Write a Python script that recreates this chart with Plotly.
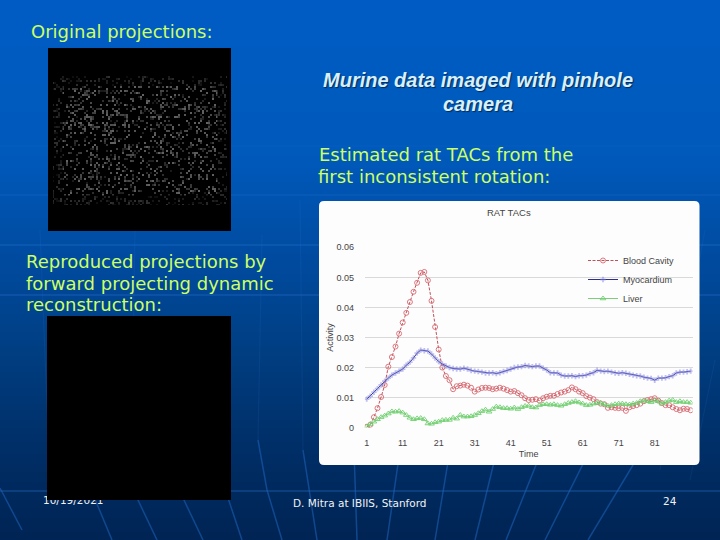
import base64, struct, zlib
import plotly.graph_objects as go

W, H = 720, 540

# ---- chart data ----
time = list(range(1, 92))
blood = [.0003,.001,.0035,.0065,.0102,.0142,.0203,.0235,.027,.0313,.035,.0382,.0418,.0452,.0482,.0515,.0518,.049,.0422,.0335,
         .026,.02,.0172,.0158,.0128,.0138,.014,.0143,.014,.0133,.012,.0127,.0132,.0133,.0132,.0128,.013,.0133,.013,.0125,
         .012,.0122,.0115,.0108,.0098,.0092,.0093,.0095,.009,.0098,.0103,.0106,.0106,.0112,.0117,.012,.0125,.0134,.0128,.012,
         .0115,.0105,.01,.0095,.0085,.008,.0078,.0066,.0068,.0066,.0065,.0066,.0056,.0068,.0072,.0075,.008,.0088,.0092,.0095,
         .0098,.009,.0082,.0075,.0075,.0068,.0062,.0058,.0063,.0062,.0058]
myocardium = [.0095,.0105,.0118,.013,.0142,.0155,.0165,.0175,.0182,.0188,.0195,.0208,.0218,.0232,.0248,.0258,.0256,.0255,.0245,.0232,
              .022,.0212,.0205,.02,.0197,.0195,.0195,.0198,.0195,.019,.0188,.0187,.0185,.0182,.0182,.0183,.018,.0183,.0187,.019,
              .0195,.02,.0202,.0203,.0207,.0205,.0203,.0205,.0205,.0198,.0192,.0183,.0182,.0182,.0175,.0172,.0172,.0173,.017,.0173,
              .0173,.0175,.018,.0183,.0191,.0188,.0187,.0188,.0185,.0182,.0181,.0183,.0181,.0178,.0175,.0173,.0172,.0168,.0165,.0164,
              .0158,.0165,.0165,.0166,.017,.0173,.0182,.0185,.0185,.0186,.0188]
liver = [.0003,.0012,.002,.0028,.0035,.004,.0047,.0054,.0053,.0055,.005,.0042,.0033,.0028,.0031,.0032,.0028,.0014,.0013,.0018,
         .002,.0025,.0026,.0026,.0033,.003,.0042,.0037,.0037,.0038,.0042,.0048,.0055,.006,.0053,.0062,.007,.0068,.0065,.0065,
         .0063,.0067,.0062,.0068,.0072,.0073,.0068,.0067,.0075,.0078,.0078,.0076,.0078,.0075,.0073,.0078,.0082,.0085,.0088,.0084,
         .008,.0075,.0076,.008,.0082,.0083,.0078,.0073,.0075,.0078,.008,.008,.0078,.0077,.008,.0082,.0088,.009,.0088,.0085,
         .009,.0088,.008,.0085,.009,.0092,.0085,.0088,.0085,.0085,.0083]
x_ticks = [1, 11, 21, 31, 41, 51, 61, 71, 81]
y_ticks = [0, .01, .02, .03, .04, .05, .06]
y_labels = ["0", "0.01", "0.02", "0.03", "0.04", "0.05", "0.06"]


def px(x):
    return x / W


def py(y):
    return 1 - y / H


def speckle_uri(size=183):
    """Film-grain texture for the black projection panel (decoration, not data)."""
    cell = 2
    rows = []
    for y in range(size):
        row = bytearray([0])
        for x in range(size):
            cx, cy = x // cell, y // cell
            h = (cx * 73856093) ^ (cy * 19349663) ^ ((cx * cy + 7) * 83492791)
            h = (h ^ (h >> 13)) * 1274126177 & 0xffffffff
            h = (h ^ (h >> 16)) & 255
            g = 0
            if 5 <= x <= 178 and 28 <= y <= 156:
                edge = min(x - 5, 178 - x, y - 28, 156 - y)
                if h > 195:
                    g = int(25 + (h - 195) * 1.25)
                    if edge < 10:
                        g = g // 2
            row += bytes([g, g, g])
        rows.append(bytes(row))
    raw = zlib.compress(b"".join(rows))

    def chunk(t, d):
        return struct.pack(">I", len(d)) + t + d + struct.pack(">I", zlib.crc32(t + d) & 0xffffffff)
    png = (b"\x89PNG\r\n\x1a\n" + chunk(b"IHDR", struct.pack(">IIBBBBB", size, size, 8, 2, 0, 0, 0))
           + chunk(b"IDAT", raw) + chunk(b"IEND", b""))
    return "data:image/png;base64," + base64.b64encode(png).decode()


def rect(x0, y0, x1, y1, color, layer="below"):
    return dict(type="rect", xref="paper", yref="paper", x0=px(x0), x1=px(x1), y0=py(y1), y1=py(y0),
                fillcolor=color, line_width=0, layer=layer)


def seg(x0, y0, x1, y1, color, width=1.5):
    return dict(type="line", xref="paper", yref="paper", x0=px(x0), x1=px(x1), y0=py(y0), y1=py(y1),
                line=dict(color=color, width=width), layer="below")


# ---- slide background: vertical gradient ----
stops = [(0, (0, 92, 196)), (150, (0, 90, 188)), (250, (0, 76, 162)), (350, (0, 62, 130)),
         (450, (0, 46, 102)), (540, (0, 36, 84))]


def grad(y):
    for (a, ca), (b, cb) in zip(stops, stops[1:]):
        if a <= y <= b:
            t = (y - a) / (b - a)
            return "rgb(%d,%d,%d)" % tuple(round(p + (q - p) * t) for p, q in zip(ca, cb))
    return "rgb(0,36,84)"


shapes = [rect(0, y, W, y + 2, grad(y + 1)) for y in range(0, H, 2)]
for y, a in [(146, .06), (195, .14), (245, .22), (295, .25), (491, .30)]:
    shapes.append(seg(0, y, W, y, f"rgba(60,140,235,{a})", 1.5))
for x0, y0, x1, y1 in [(0, 488, 22, 530), (92, 492, 112, 540), (137, 498, 157, 540), (183, 498, 203, 540),
                       (228, 498, 242, 540), (258, 440, 267, 490), (267, 490, 282, 540), (303, 450, 317, 540),
                       (354, 450, 357, 540), (400, 450, 387, 540), (450, 450, 435, 540), (497, 450, 475, 540),
                       (542, 450, 506, 540), (590, 450, 545, 540), (642, 450, 588, 540)]:
    shapes.append(seg(x0, y0, x1, y1, "rgba(30,100,190,.55)", 1.5))
for x0, y0, x1, y1 in [(40, 230, 50, 480), (135, 230, 131, 480), (262, 235, 258, 440), (300, 200, 303, 450),
                       (705, 230, 660, 470), (715, 360, 690, 480)]:
    shapes.append(seg(x0, y0, x1, y1, "rgba(60,140,235,.10)", 1.2))

# white chart card with rounded corners
l, t, r, b, c = px(319), py(201), px(699.5), py(465), 5
rx, ry = c / W, c / H
shapes.append(dict(
    type="path", xref="paper", yref="paper", layer="below", fillcolor="#fdfdfd", line_width=0,
    path=(f"M {l+rx} {t} L {r-rx} {t} Q {r} {t} {r} {t-ry} L {r} {b+ry} Q {r} {b} {r-rx} {b} "
          f"L {l+rx} {b} Q {l} {b} {l} {b+ry} L {l} {t-ry} Q {l} {t} {l+rx} {t} Z")))

# black panel on top of the date text
shapes.append(rect(47, 316, 231, 500, "#000000", layer="above"))

fig = go.Figure()
fig.add_trace(go.Scatter(
    x=time, y=blood, name="Blood Cavity", mode="lines+markers",
    line=dict(color="#c2505a", width=1, dash="3px,1.5px"),
    marker=dict(symbol="circle-open", size=5, color="#d86a72", line=dict(width=0.9))))
fig.add_trace(go.Scatter(
    x=time, y=myocardium, name="Myocardium", mode="lines+markers",
    line=dict(color="#2f2f8a", width=1),
    marker=dict(symbol="cross", size=4.5, color="rgba(130,130,225,.5)", line=dict(width=0))))
fig.add_trace(go.Scatter(
    x=time, y=liver, name="Liver", mode="lines+markers",
    line=dict(color="#5cc05c", width=0.8),
    marker=dict(symbol="triangle-up-open", size=5, color="#6fd06f", line=dict(width=0.9))))
fig.add_trace(go.Scatter(
    x=[43], y=[501], xaxis="x2", yaxis="y2", mode="text", text=["10/19/2021"], textposition="middle right",
    textfont=dict(family="DejaVu Sans", size=10.5, color="#f2f2f2"), showlegend=False, hoverinfo="skip"))

body = dict(family="DejaVu Sans", color="#ccff66")


def note(x, y, text, size=18, font=None, align="left", anchor="left", **extra):
    f = dict(body if font is None else font)
    f["size"] = size
    f.update(extra)
    return dict(xref="paper", yref="paper", x=px(x), y=py(y), text=text, showarrow=False, align=align,
                xanchor=anchor, yanchor="middle", font=f)


murine = dict(family="Liberation Sans", color="#d6f0ff", weight="bold", style="italic",
              shadow="1px 1px 1px #0a2a55")
foot = dict(family="DejaVu Sans", color="#f2f2f2")
chart = dict(family="Liberation Sans", color="#444444")

annotations = [
    note(29, 32, "Original projections:"),
    note(478, 80, "Murine data imaged with pinhole", 20, murine, anchor="center"),
    note(478, 104, "camera", 20, murine, anchor="center"),
    note(317, 154, "Estimated rat TACs from the"),
    note(316, 176, "first inconsistent rotation:"),
    note(24, 261, "Reproduced projections by"),
    note(23.5, 283, "forward projecting dynamic"),
    note(23.5, 304, "reconstruction:"),
    note(291, 502.5, "D. Mitra at IBIIS, Stanford", 10.5, foot),
    note(670, 501, "24", 10.5, foot, anchor="center"),
    note(509, 213, "RAT TACs", 9.5, chart, anchor="center"),
]

tick_font = dict(family="Liberation Sans", size=9, color="#444")
fig.update_layout(
    width=W, height=H, margin=dict(l=0, r=0, t=0, b=0), paper_bgcolor="#00346e", plot_bgcolor="rgba(0,0,0,0)",
    shapes=shapes, annotations=annotations,
    images=[dict(source=speckle_uri(), xref="paper", yref="paper", x=px(48), y=py(48), sizex=183 / W, sizey=183 / H,
                 xanchor="left", yanchor="top", sizing="stretch", layer="above")],
    xaxis=dict(domain=[px(364.9), px(692.5)], range=[0.5, 91.5], tickvals=x_ticks, showgrid=False, zeroline=False,
               showline=False, ticks="outside", ticklen=6, tickcolor="rgba(0,0,0,0)", tickfont=tick_font,
               automargin=False, title=dict(text="Time", font=tick_font, standoff=4)),
    yaxis=dict(domain=[py(427.7), py(247.3)], range=[0, .06], tickvals=y_ticks, ticktext=y_labels,
               gridcolor="#d9d9d9", gridwidth=1, zeroline=False, showline=False,
               ticks="outside", ticklen=8, tickcolor="rgba(0,0,0,0)", tickfont=tick_font,
               automargin=False, title=dict(text="Activity", font=tick_font, standoff=1)),
    xaxis2=dict(domain=[0, 1], range=[0, W], visible=False, anchor="y2", automargin=False),
    yaxis2=dict(domain=[0, 1], range=[H, 0], visible=False, anchor="x2", automargin=False),
    legend=dict(x=px(583), y=py(246), xanchor="left", yanchor="top", bgcolor="rgba(0,0,0,0)",
                font=tick_font, itemwidth=30),
)

fig.write_html("out.html", config=dict(displayModeBar=False), post_script="document.body.style.margin='0';")
